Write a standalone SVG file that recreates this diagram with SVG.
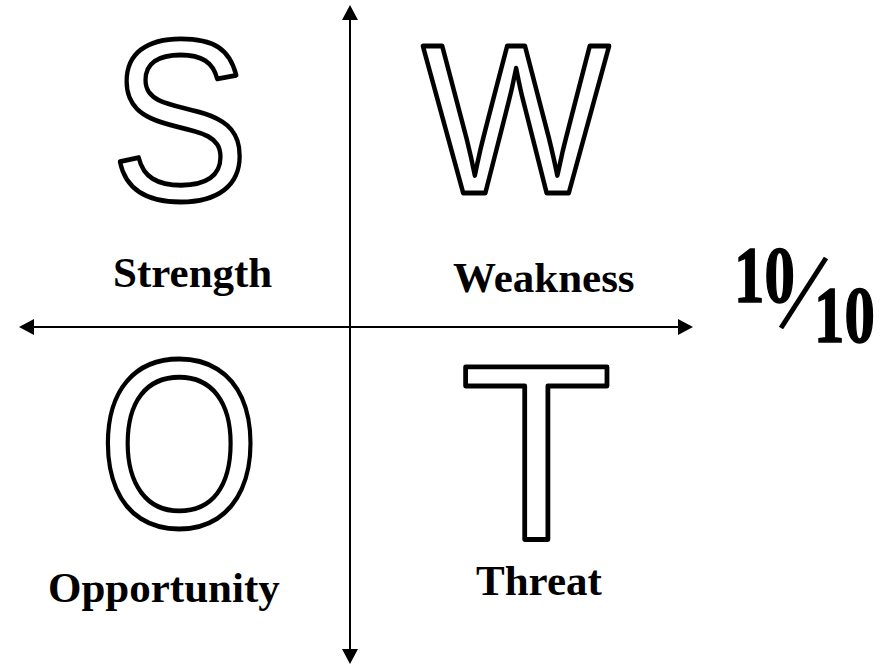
<svg xmlns="http://www.w3.org/2000/svg" width="884" height="669" viewBox="0 0 884 669">
  <style>
    .big { font-family: "Liberation Sans", Arial, sans-serif; fill: #ffffff; stroke: #000000; stroke-width: 4.8; stroke-linejoin: round; }
    .lbl { font-family: "Liberation Serif", "Times New Roman", serif; font-weight: bold; font-size: 43px; fill: #000000; }
    .frac { font-family: "Liberation Serif", "Times New Roman", serif; font-weight: bold; font-size: 80px; fill: #000000; stroke: #000000; stroke-width: 1.5; }
    .axis { stroke: #000000; stroke-width: 2; fill: none; }
  </style>
  <defs>
    <marker id="ah" viewBox="0 0 15 16" refX="0" refY="8" markerWidth="15" markerHeight="16" markerUnits="userSpaceOnUse" orient="auto">
      <path d="M0,0 L15,8 L0,16 Z" fill="#000000"/>
    </marker>
  </defs>
  <rect width="884" height="669" fill="#ffffff"/>
  <g id="connectors">
    <line class="axis" x1="350" y1="200" x2="350" y2="20" marker-end="url(#ah)"/>
    <line class="axis" x1="350" y1="200" x2="350" y2="649" marker-end="url(#ah)"/>
    <line class="axis" x1="350" y1="327" x2="34" y2="327" marker-end="url(#ah)"/>
    <line class="axis" x1="350" y1="327" x2="678" y2="327" marker-end="url(#ah)"/>
  </g>
  <g id="node-s">
    <text class="big" font-size="231" transform="translate(110.6,200) scale(0.9,1)">S</text>
    <text class="lbl" x="113" y="287">Strength</text>
  </g>
  <g id="node-w">
    <text class="big" font-size="214" transform="translate(422,193) scale(0.93,1)">W</text>
    <text class="lbl" x="453" y="292">Weakness</text>
  </g>
  <g id="node-o">
    <text class="big" font-size="240" transform="translate(98,527) scale(0.87,1)">O</text>
    <text class="lbl" x="48" y="602">Opportunity</text>
  </g>
  <g id="node-t">
    <text class="big" font-size="250" transform="translate(460,540)">T</text>
    <text class="lbl" x="476" y="595">Threat</text>
  </g>
  <g id="score">
    <text class="frac" transform="translate(734,302) scale(0.76,1)">10</text>
    <line x1="826" y1="258" x2="781" y2="328" stroke="#000000" stroke-width="5"/>
    <text class="frac" transform="translate(814,342) scale(0.76,1)">10</text>
  </g>
</svg>
